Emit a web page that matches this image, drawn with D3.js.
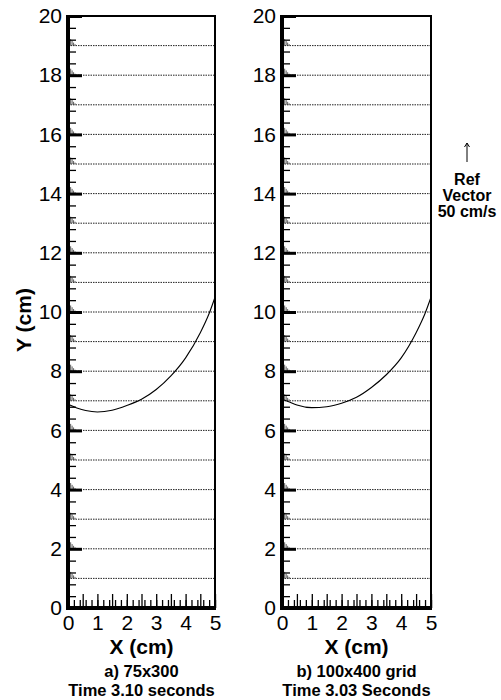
<!DOCTYPE html>
<html>
<head>
<meta charset="utf-8">
<script src="https://cdn.jsdelivr.net/npm/d3@7/dist/d3.min.js"></script>
<style>
  body { margin: 0; background: #fff; }
  svg { display: block; font-family: "Liberation Sans", Arial, sans-serif; }
</style>
</head>
<body>
<div id="chart"></div>
<script>
/* Two side-by-side velocity-field panels with interface curve. */

var rows = [1, 2, 3, 4, 5, 6, 7, 8, 9, 10, 11, 12, 13, 14, 15, 16, 17, 18, 19];
var yTicks = [0, 2, 4, 6, 8, 10, 12, 14, 16, 18, 20];
var xTicks = [0, 1, 2, 3, 4, 5];

// interface (free surface) per panel, [x cm, y cm]
var curveA = [[0, 6.88], [0.3, 6.76], [0.6, 6.67], [1.0, 6.62], [1.5, 6.68], [2.0, 6.84],
  [2.5, 7.05], [3.0, 7.38], [3.5, 7.84], [4.0, 8.45], [4.5, 9.3], [4.8, 9.95], [5.0, 10.5]];
var curveB = [[0, 7.05], [0.2, 6.98], [0.5, 6.86], [1.0, 6.77], [1.5, 6.8], [2.0, 6.92],
  [2.5, 7.12], [3.0, 7.45], [3.5, 7.88], [4.0, 8.45], [4.5, 9.3], [4.8, 9.95], [5.0, 10.5]];

// small near-wall vectors on each row (x cm, length cm)
var wallX = [0.04, 0.09, 0.14, 0.19, 0.24];
var wallLen = [0.28, 0.22, 0.16, 0.1, 0.05];

var captionA = ["a) 75x300", "Time 3.10 seconds"];
var captionB = ["b) 100x400 grid", "Time 3.03 Seconds"];

var W = 501, H = 700;
var svg = d3.select("#chart").append("svg").attr("width", W).attr("height", H);

function panel(x0, x1, curve, caption) {
  var x = d3.scaleLinear().domain([0, 5]).range([x0, x1]);
  var y = d3.scaleLinear().domain([0, 20]).range([608, 16]);
  var g = svg.append("g");

  // vector rows
  g.selectAll("line.row").data(rows).enter().append("line")
    .attr("x1", x(0)).attr("x2", x(5))
    .attr("y1", function (d) { return y(d); }).attr("y2", function (d) { return y(d); })
    .attr("stroke", "#222").attr("stroke-width", 1).attr("stroke-dasharray", "1.5 1");

  rows.forEach(function (r) {
    g.selectAll(null).data(wallX).enter().append("line")
      .attr("x1", function (d) { return x(d); }).attr("x2", function (d) { return x(d); })
      .attr("y1", y(r))
      .attr("y2", function (d, i) { return y(r + wallLen[i]); })
      .attr("stroke", "#333").attr("stroke-width", 0.8);
  });

  // interface
  g.append("path").datum(curve)
    .attr("fill", "none").attr("stroke", "#000").attr("stroke-width", 1.1)
    .attr("d", d3.line().x(function (d) { return x(d[0]); }).y(function (d) { return y(d[1]); })
      .curve(d3.curveMonotoneX));

  // inward ticks
  var yMinor = d3.range(0, 20.001, 0.4);
  var xMinor = d3.range(0, 5.001, 0.2);
  var tickStyle = function (s) { s.select(".domain").remove(); s.selectAll("line").attr("stroke", "#000").attr("stroke-width", 1.3); };
  g.append("g").attr("transform", "translate(" + x0 + ",0)")
    .call(d3.axisRight(y).tickValues(yMinor).tickSize(8).tickFormat("")).call(tickStyle);
  g.append("g").attr("transform", "translate(" + x0 + ",0)")
    .call(d3.axisRight(y).tickValues(yTicks).tickSize(14).tickFormat("")).call(tickStyle)
    .selectAll("line").attr("stroke-width", 3);
  g.append("g").attr("transform", "translate(0,608)")
    .call(d3.axisTop(x).tickValues(xMinor).tickSize(8).tickFormat("")).call(tickStyle);
  g.append("g").attr("transform", "translate(0,608)")
    .call(d3.axisTop(x).tickValues(d3.range(0, 5.001, 0.5)).tickSize(14).tickFormat("")).call(tickStyle);

  // labels
  var ya = g.append("g").attr("transform", "translate(" + (x0 - 4) + ",0)")
    .call(d3.axisLeft(y).tickValues(yTicks).tickSize(0).tickPadding(2).tickFormat(d3.format("d")));
  ya.select(".domain").remove();
  ya.selectAll("text").attr("font-size", 21).attr("fill", "#000")
    .attr("font-family", "Liberation Sans, Arial, sans-serif");
  var xa = g.append("g").attr("transform", "translate(0,612)")
    .call(d3.axisBottom(x).tickValues(xTicks).tickSize(0).tickPadding(3).tickFormat(d3.format("d")));
  xa.select(".domain").remove();
  xa.selectAll("text").attr("font-size", 21).attr("fill", "#000")
    .attr("font-family", "Liberation Sans, Arial, sans-serif");

  // frame
  g.append("rect").attr("x", x0).attr("y", 16).attr("width", x1 - x0).attr("height", 592)
    .attr("fill", "none").attr("stroke", "#000").attr("stroke-width", 2);
  g.append("line").attr("x1", x0).attr("x2", x0).attr("y1", 15).attr("y2", 610)
    .attr("stroke", "#000").attr("stroke-width", 4);
  g.append("line").attr("x1", x0 - 2).attr("x2", x1 + 1).attr("y1", 608).attr("y2", 608)
    .attr("stroke", "#000").attr("stroke-width", 4);

  var cx = (x0 + x1) / 2;
  g.append("text").attr("x", cx).attr("y", 654).attr("text-anchor", "middle")
    .attr("font-size", 21).attr("font-weight", "bold").text("X (cm)");
  g.append("text").attr("x", cx).attr("y", 677).attr("text-anchor", "middle")
    .attr("font-size", 16.5).attr("font-weight", "bold").text(caption[0]);
  g.append("text").attr("x", cx).attr("y", 696).attr("text-anchor", "middle")
    .attr("font-size", 16.5).attr("font-weight", "bold").text(caption[1]);
}

panel(68, 215, curveA, captionA);
panel(282, 431, curveB, captionB);

svg.append("text").attr("transform", "translate(31,320) rotate(-90)")
  .attr("text-anchor", "middle").attr("font-size", 21).attr("font-weight", "bold").text("Y (cm)");

// reference vector
var refLen = d3.scaleLinear().domain([0, 50]).range([0, 19]);
svg.append("line").attr("x1", 467).attr("x2", 467).attr("y1", 162).attr("y2", 162 - refLen(50))
  .attr("stroke", "#000").attr("stroke-width", 1);
svg.append("path").attr("d", "M464.5,147 L467," + (162 - refLen(50)) + " L469.5,147")
  .attr("fill", "none").attr("stroke", "#000").attr("stroke-width", 1);
["Ref", "Vector", "50 cm/s"].forEach(function (t, i) {
  svg.append("text").attr("x", 467).attr("y", 185 + i * 16).attr("text-anchor", "middle")
    .attr("font-size", 16).attr("font-weight", "bold").text(t);
});
</script>
</body>
</html>
